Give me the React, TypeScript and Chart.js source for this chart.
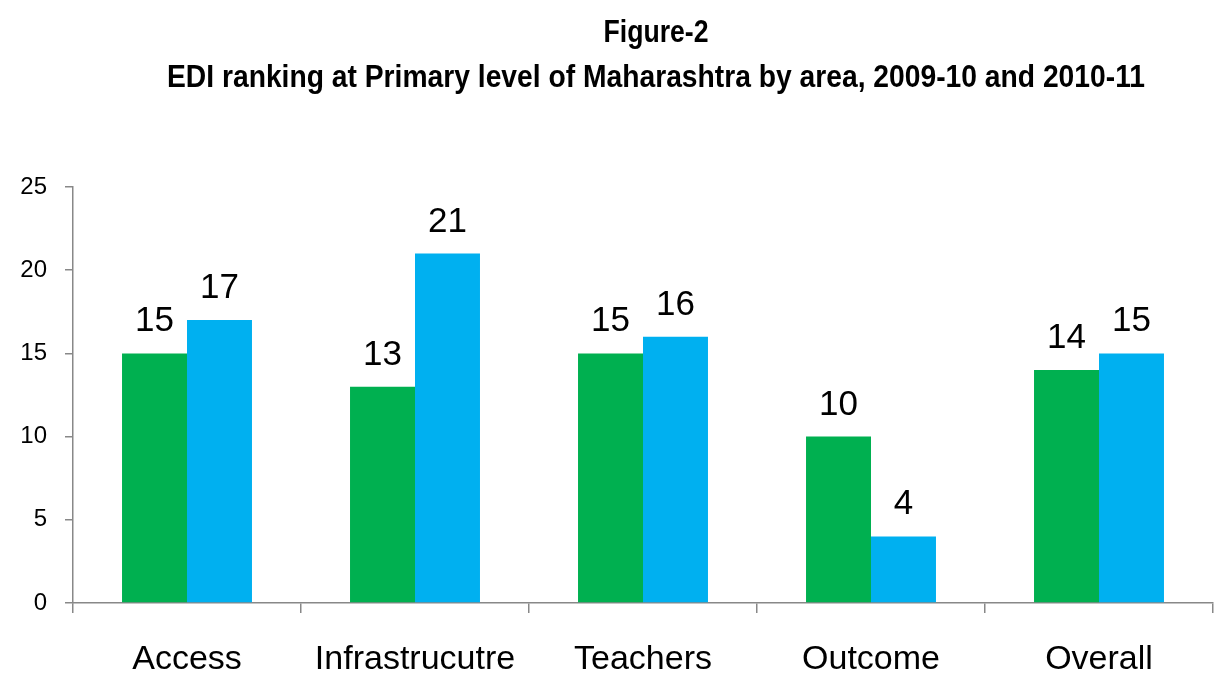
import React, { useEffect, useRef } from "react";
import { Chart, registerables } from "chart.js";

Chart.register(...registerables);

const categories = ["Access", "Infrastrucutre", "Teachers", "Outcome", "Overall"];
const series2009 = [15, 13, 15, 10, 14];
const series2010 = [17, 21, 16, 4, 15];
const seriesNames = ["2009-10", "2010-11"];
const yTicks = [0, 5, 10, 15, 20, 25];
const titleLines = ["Figure-2", "EDI ranking at Primary level of Maharashtra by area, 2009-10 and 2010-11"];

// condensed title drawing: [centerX, baseline, target width]
const titleLayout = [
  [656, 42, 105],
  [656, 87, 978],
];

const titlePlugin = {
  id: "customTitle",
  afterDraw(chart: any) {
    const ctx = chart.ctx;
    ctx.save();
    ctx.fillStyle = "#000";
    ctx.textAlign = "center";
    ctx.textBaseline = "alphabetic";
    ctx.font = "bold 32px 'Liberation Sans', sans-serif";
    titleLines.forEach((t, i) => {
      const [cx, by, tw] = titleLayout[i];
      const w = ctx.measureText(t).width;
      const sx = tw / w;
      ctx.save();
      ctx.translate(cx, by);
      ctx.scale(sx, 1);
      ctx.fillText(t, 0, 0);
      ctx.restore();
    });
    ctx.restore();
  },
};

const valueLabelPlugin = {
  id: "valueLabels",
  afterDatasetsDraw(chart: any) {
    const ctx = chart.ctx;
    ctx.save();
    ctx.fillStyle = "#000";
    ctx.textAlign = "center";
    ctx.textBaseline = "alphabetic";
    ctx.font = "35px 'Liberation Sans', sans-serif";
    chart.data.datasets.forEach((ds: any, i: number) => {
      const meta = chart.getDatasetMeta(i);
      meta.data.forEach((bar: any, j: number) => {
        ctx.fillText(String(ds.data[j]), bar.x, bar.y - 22);
      });
    });
    ctx.restore();
  },
};

export default function App() {
  const ref = useRef<HTMLCanvasElement>(null);
  useEffect(() => {
    document.body.style.margin = "0";
    const chart = new Chart(ref.current!, {
      type: "bar",
      data: {
        labels: categories,
        datasets: [
          { label: seriesNames[0], data: series2009, backgroundColor: "#00B050", categoryPercentage: 0.57, barPercentage: 1 },
          { label: seriesNames[1], data: series2010, backgroundColor: "#00B0F0", categoryPercentage: 0.57, barPercentage: 1 },
        ],
      },
      options: {
        animation: false,
        responsive: false,
        layout: { padding: { top: 187, right: 1, left: 0, bottom: 0 } },
        plugins: { legend: { display: false }, tooltip: { enabled: false }, title: { display: false } },
        scales: {
          x: {
            border: { color: "#888", width: 1.5 },
            grid: { display: true, drawOnChartArea: false, offset: true, tickLength: 10, color: "#888", lineWidth: 1.5 },
            ticks: { color: "#000", font: { size: 34, family: "'Liberation Sans', sans-serif" }, padding: 26 },
            afterFit: (s: any) => { s.height = 74; },
          },
          y: {
            min: 0,
            max: 25,
            border: { color: "#888", width: 1.5 },
            grid: { display: true, drawOnChartArea: false, tickLength: 8, color: "#888", lineWidth: 1.5 },
            ticks: { stepSize: 5, color: "#000", font: { size: 24, family: "'Liberation Sans', sans-serif" }, padding: 18 },
            afterFit: (s: any) => { s.width = 73; },
            afterBuildTicks: (s: any) => { s.ticks = yTicks.map((v) => ({ value: v })); },
          },
        },
      },
      plugins: [titlePlugin, valueLabelPlugin],
    });
    return () => chart.destroy();
  }, []);
  return (
    <div style={{ width: 1214, height: 677 }}>
      <canvas ref={ref} width={1214} height={677} style={{ display: "block" }} />
    </div>
  );
}
